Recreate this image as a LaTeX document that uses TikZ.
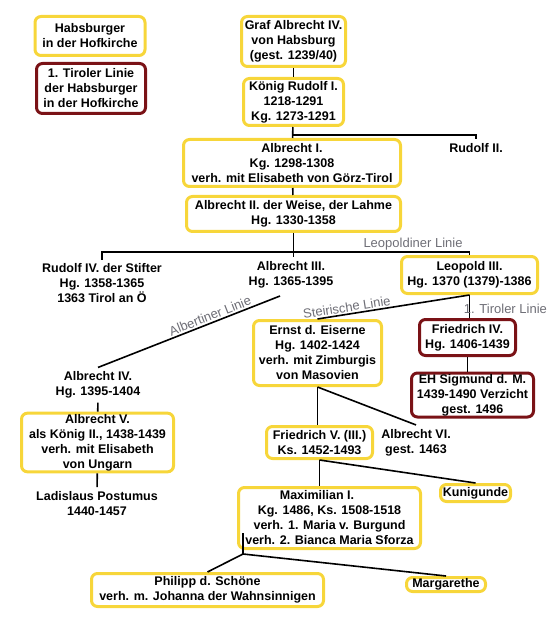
\documentclass[tikz,border=0pt]{standalone}
\usepackage{fontspec}
\setmainfont{Liberation Sans}
\usepackage{tikz}
\usetikzlibrary{positioning}

\definecolor{habsgelb}{RGB}{247,214,58}
\definecolor{tirolrot}{RGB}{122,18,22}
\definecolor{liniegrau}{RGB}{110,110,118}

\begin{document}
\begin{tikzpicture}[x=1pt,y=-1pt]
  \tikzstyle{box}=[draw=habsgelb,line width=3pt,rounded corners=6pt,fill=white,align=center,inner sep=1pt,font=\fontsize{12.5}{15}\selectfont\bfseries]
  \tikzstyle{rbox}=[box,draw=tirolrot]
  \tikzstyle{person}=[align=center,inner xsep=1pt,inner ysep=4pt,font=\fontsize{12.5}{15}\selectfont\bfseries]
  \tikzstyle{linie}=[font=\fontsize{13}{15}\selectfont,text=liniegrau,inner sep=1.5pt]
  \tikzstyle{ast}=[line width=1.6pt]
  \useasboundingbox (0,0) rectangle (556,617);
  % Legende
  \node[box,minimum width=110,minimum height=39] (hofkirche) at (90,36) {Habsburger\\in der Hofkirche};
  \node[rbox,minimum width=109,minimum height=50] (tiroler) at (91,88.5) {1. Tiroler Linie\\der Habsburger\\in der Hofkirche};
  % Stamm
  \node[box,minimum width=104,minimum height=50] (graf) at (293.5,41.5) {Graf Albrecht IV.\\von Habsburg\\(gest. 1239/40)};
  \node[box,minimum width=100,minimum height=47] (rudolfI) at (293.5,102) {König Rudolf I.\\1218-1291\\Kg. 1273-1291};
  \node[person] (rudolfII) at (476,148) {Rudolf II.};
  \node[box,minimum width=217,minimum height=47] (albrechtI) at (292,163) {Albrecht I.\\Kg. 1298-1308\\verh. mit Elisabeth von Görz-Tirol};
  \node[box,minimum width=214,minimum height=35] (albrechtII) at (293.5,214) {Albrecht II. der Weise, der Lahme\\Hg. 1330-1358};
  \node[person] (rudolfIV) at (102,283.5) {Rudolf IV. der Stifter\\Hg. 1358-1365\\1363 Tirol an Ö};
  \node[person] (albrechtIII) at (291,275) {Albrecht III.\\Hg. 1365-1395};
  \node[box,minimum width=136,minimum height=37] (leopold) at (469.5,275) {Leopold III.\\Hg. 1370 (1379)-1386};
  % Leopoldiner
  \node[box,minimum width=128,minimum height=65] (ernst) at (317.5,353) {Ernst d. Eiserne\\Hg. 1402-1424\\verh. mit Zimburgis\\von Masovien};
  \node[rbox,minimum width=96,minimum height=36] (friedrichIV) at (467.5,337.5) {Friedrich IV.\\Hg. 1406-1439};
  \node[rbox,minimum width=122,minimum height=44] (sigmund) at (472.5,395) {EH Sigmund d. M.\\1439-1490 Verzicht\\gest. 1496};
  % Albertiner
  \node[person] (albrechtIV) at (98,385) {Albrecht IV.\\Hg. 1395-1404};
  \node[box,minimum width=152,minimum height=58] (albrechtV) at (97.5,442.5) {Albrecht V.\\als König II., 1438-1439\\verh. mit Elisabeth\\von Ungarn};
  \node[person] (ladislaus) at (97,503.5) {Ladislaus Postumus\\1440-1457};
  % Steirische
  \node[box,minimum width=106,minimum height=32] (friedrichV) at (319.5,442.5) {Friedrich V. (III.)\\Ks. 1452-1493};
  \node[person] (albrechtVI) at (416,442.5) {Albrecht VI.\\gest. 1463};
  \node[box,minimum width=70,minimum height=17] (kunigunde) at (475.5,493) {Kunigunde};
  \node[box,minimum width=182,minimum height=61] (maximilian) at (329.5,518) {Maximilian I.\hspace*{25pt}\\Kg. 1486, Ks. 1508-1518\hspace*{25pt}\\verh. 1. Maria v. Burgund\hspace*{25pt}\\verh. 2. Bianca Maria Sforza};
  \node[box,minimum width=232,minimum height=33] (philipp) at (207.5,590) {Philipp d. Schöne\\verh. m. Johanna der Wahnsinnigen};
  \node[box,minimum width=79,minimum height=14] (margarethe) at (446,584.5) {Margarethe};
  % Verbindungen
  \coordinate (j1) at (293,135);
  \coordinate (j2) at (293,252);
  \coordinate (a3) at (280,296);
  \coordinate (m1) at (243,533);
  \coordinate (m2) at (243,554);
  \draw[ast] (graf) -- (rudolfI);
  \draw[ast] (rudolfI) -- (albrechtI);
  \draw[ast] (j1) -| (rudolfII.north);
  \draw[ast] (albrechtI) -- (albrechtII);
  \draw[ast] (albrechtII.south) -- (albrechtII.south |- albrechtIII.north);
  \draw[ast] (rudolfIV.north) |- (j2) -| node[linie,above,pos=0.34] {Leopoldiner Linie} (leopold.north);
  \draw[ast] (ernst.north) -- node[linie,sloped,above,pos=0.2] {Steirische Linie} (leopold.south);
  \draw[ast] (leopold.south) -- node[linie,pos=0.6,anchor=west,xshift=-8pt] {1. Tiroler Linie} (leopold.south |- friedrichIV.north);
  \draw[ast] (friedrichIV.south) -- (friedrichIV.south |- sigmund.north);
  \draw[ast] (albrechtIV.north) -- node[linie,sloped,above,pos=0.63] {Albertiner Linie} (a3);
  \draw[ast] (albrechtIV) -- (albrechtV);
  \draw[ast] (albrechtV) -- (ladislaus);
  \draw[ast] (ernst.south) -- (ernst.south |- friedrichV.north);
  \draw[ast] (ernst.south) -- (albrechtVI.north);
  \draw[ast] (friedrichV.south) -- (friedrichV.south |- maximilian.north);
  \draw[ast] (friedrichV.south) -- (kunigunde.north);
  \draw[ast] (m1) -- (m2) -- (philipp.north);
  \draw[ast] (m2) -- (margarethe.north);
\end{tikzpicture}
\end{document}
